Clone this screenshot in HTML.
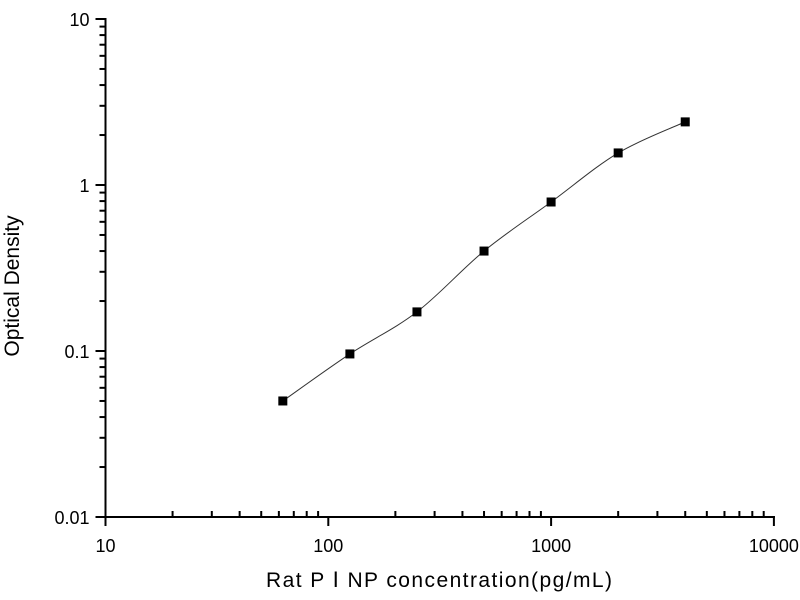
<!DOCTYPE html>
<html><head><meta charset="utf-8"><style>
html,body{margin:0;padding:0;background:#fff;}
svg{display:block;font-family:"Liberation Sans",Arial,sans-serif;}
</style></head><body>
<svg id="chart" width="800" height="600" xmlns="http://www.w3.org/2000/svg"></svg>
<script>
const concentrations = [62.5, 125, 250, 500, 1000, 2000, 4000];
const odValues = [0.050, 0.096, 0.172, 0.40, 0.79, 1.56, 2.40];
const xTickValues = [10, 100, 1000, 10000];
const xTickLabels = ["10", "100", "1000", "10000"];
const yTickValues = [0.01, 0.1, 1, 10];
const yTickLabels = ["0.01", "0.1", "1", "10"];

const NS = "http://www.w3.org/2000/svg";
const svg = document.getElementById("chart");
const X0 = 105.5, XDEC = 222.8, Y0 = 517, YDEC = 166;
function xs(v){ return X0 + (Math.log10(v) - 1) * XDEC; }
function ys(v){ return Y0 - (Math.log10(v) + 2) * YDEC; }
function mk(tag, attrs){ const e = document.createElementNS(NS, tag); for (const k in attrs) e.setAttribute(k, attrs[k]); svg.appendChild(e); return e; }

let ax = mk("line",{x1:X0,y1:ys(10)-1,x2:X0,y2:Y0+1,stroke:"#000","stroke-width":2});


ax = mk("line",{x1:X0-1,y1:Y0,x2:xs(10000)+1,y2:Y0,stroke:"#000","stroke-width":2});



for (let d = 10; d <= 10000; d *= 10) {
  const x = xs(d);
  const t = mk("line",{x1:x,y1:Y0-1,x2:x,y2:Y0+9,stroke:"#000","stroke-width":2});
  
  
  if (d < 10000) for (let m = 2; m <= 9; m++) {
    const xm = xs(d*m);
    const tm = mk("line",{x1:xm,y1:Y0,x2:xm,y2:Y0-6,stroke:"#000","stroke-width":2});
    
    
  }
}
xTickValues.forEach((v,i)=>{
  const t = mk("text",{x:xs(v),y:Y0+35,"text-anchor":"middle","font-size":"18",fill:"#000"});
  t.textContent = xTickLabels[i];
  
  
});
for (let d = 0.01; d <= 10.001; d *= 10) {
  const y = ys(d);
  const t = mk("line",{x1:X0-10,y1:y,x2:X0,y2:y,stroke:"#000","stroke-width":2});
  
  
  if (d < 9) for (let m = 2; m <= 9; m++) {
    const ym = ys(d*m);
    const tm = mk("line",{x1:X0-6,y1:ym,x2:X0,y2:ym,stroke:"#000","stroke-width":2});
    
    
  }
}
yTickValues.forEach((v,i)=>{
  const t = mk("text",{x:X0-16,y:ys(v)+7,"text-anchor":"end","font-size":"18",fill:"#000"});
  t.textContent = yTickLabels[i];
  
  
});
let tt = mk("text",{x:439,y:587,"text-anchor":"middle","font-size":"21",fill:"#000",textLength:"346"});
tt.textContent = "Rat P Ⅰ NP concentration(pg/mL)";


tt = mk("text",{x:0,y:0,"text-anchor":"middle","font-size":"21",fill:"#000",transform:"translate(19,286) rotate(-90)"});
tt.textContent = "Optical Density";



const pts = concentrations.map((c,i)=>[xs(c), ys(odValues[i])]);
let d = "M" + pts[0][0] + "," + pts[0][1];
for (let i = 0; i < pts.length-1; i++) {
  const p0 = pts[Math.max(0,i-1)], p1 = pts[i], p2 = pts[i+1], p3 = pts[Math.min(pts.length-1,i+2)];
  const c1 = [p1[0]+(p2[0]-p0[0])/6, p1[1]+(p2[1]-p0[1])/6];
  const c2 = [p2[0]-(p3[0]-p1[0])/6, p2[1]-(p3[1]-p1[1])/6];
  d += " C" + c1 + " " + c2 + " " + p2;
}
const curve = mk("path",{d:d,fill:"none",stroke:"#333","stroke-width":1});



pts.forEach(p=>{
  const r = mk("rect",{x:p[0]-4.5,y:p[1]-4.5,width:9,height:9,fill:"#000"});
  
  
});
</script>
</body></html>
